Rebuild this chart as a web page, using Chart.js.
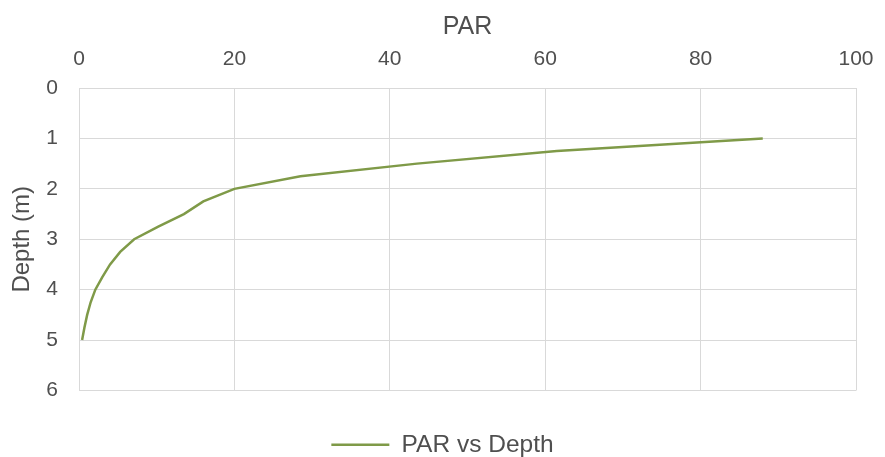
<!DOCTYPE html>
<html>
<head>
<meta charset="utf-8">
<script src="https://cdn.jsdelivr.net/npm/chart.js@4/dist/chart.umd.min.js"></script>
<style>
  html, body { margin: 0; padding: 0; background: #fff; }
  #wrap { width: 885px; height: 457px; }
</style>
</head>
<body>
<div id="wrap"><canvas id="parChart"></canvas></div>
<script>
/* ===== DATA ===== */
const DEPTH_M = [1, 1.25, 1.5, 1.75, 2, 2.25, 2.5, 2.75, 3, 3.25, 3.5, 3.75, 4, 4.25, 4.5, 4.75, 5];
const PAR     = [88, 61.5, 43.5, 28.5, 20, 16, 13.5, 10.2, 7.1, 5.3, 4.0, 3.0, 2.1, 1.5, 1.05, 0.7, 0.4];
const SERIES_LABEL = 'PAR vs Depth';
const X_TITLE = 'PAR';
const Y_TITLE = 'Depth (m)';

/* ===== STYLE ===== */
const TXT  = '#4f4f4f';
const GRID = '#d9d9d9';
const LINE = '#7f9a48';
Chart.defaults.font.family = '"Liberation Sans", Arial, sans-serif';
Chart.defaults.color = TXT;

const points = DEPTH_M.map((d, i) => ({x: PAR[i], y: d}));

// pull the legend a little lower (shrink its box, the gap axis takes the rest)
const legendNudge = {
  id: 'legendNudge',
  afterInit(chart) {
    const lg = chart.legend;
    const fit = lg.fit;
    lg.fit = function () { fit.call(this); this.height -= 10; };
  }
};

new Chart(document.getElementById('parChart'), {
  type: 'scatter',
  data: {
    datasets: [{
      label: SERIES_LABEL,
      data: points,
      showLine: true,
      borderColor: LINE,
      backgroundColor: LINE,
      borderWidth: 2.5,
      pointRadius: 0,
      tension: 0
    }]
  },
  plugins: [legendNudge],
  options: {
    responsive: true,
    maintainAspectRatio: false,
    animation: false,
    layout: {padding: 0},
    plugins: {
      tooltip: {enabled: false},
      legend: {
        position: 'bottom',
        labels: {
          usePointStyle: true,
          pointStyle: 'line',
          pointStyleWidth: 58,
          font: {size: 24.5},
          color: TXT,
          padding: 2
        }
      }
    },
    scales: {
      x: {
        type: 'linear',
        position: 'top',
        min: 0, max: 100,
        ticks: {stepSize: 20, font: {size: 21}, color: TXT, padding: 16},
        grid: {color: GRID, drawTicks: false},
        border: {color: GRID},
        title: {display: true, text: X_TITLE, font: {size: 25}, color: TXT, padding: {top: 12, bottom: 0}},
        afterFit: s => { s.height = 88; s.paddingLeft = 0; s.paddingRight = 29; }
      },
      gap: {
        type: 'linear',
        position: 'bottom',
        display: true,
        ticks: {display: false},
        grid: {display: false},
        border: {display: false},
        afterFit: s => { s.height = 40; }
      },
      y: {
        type: 'linear',
        reverse: true,
        min: 0, max: 6,
        ticks: {stepSize: 1, font: {size: 21}, color: TXT, padding: 21},
        grid: {color: GRID, drawTicks: false},
        border: {color: GRID},
        title: {display: true, text: Y_TITLE, font: {size: 24}, color: TXT, padding: {top: 8, bottom: 0}},
        afterFit: s => { s.width = 79; }
      }
    }
  }
});
</script>
</body>
</html>
